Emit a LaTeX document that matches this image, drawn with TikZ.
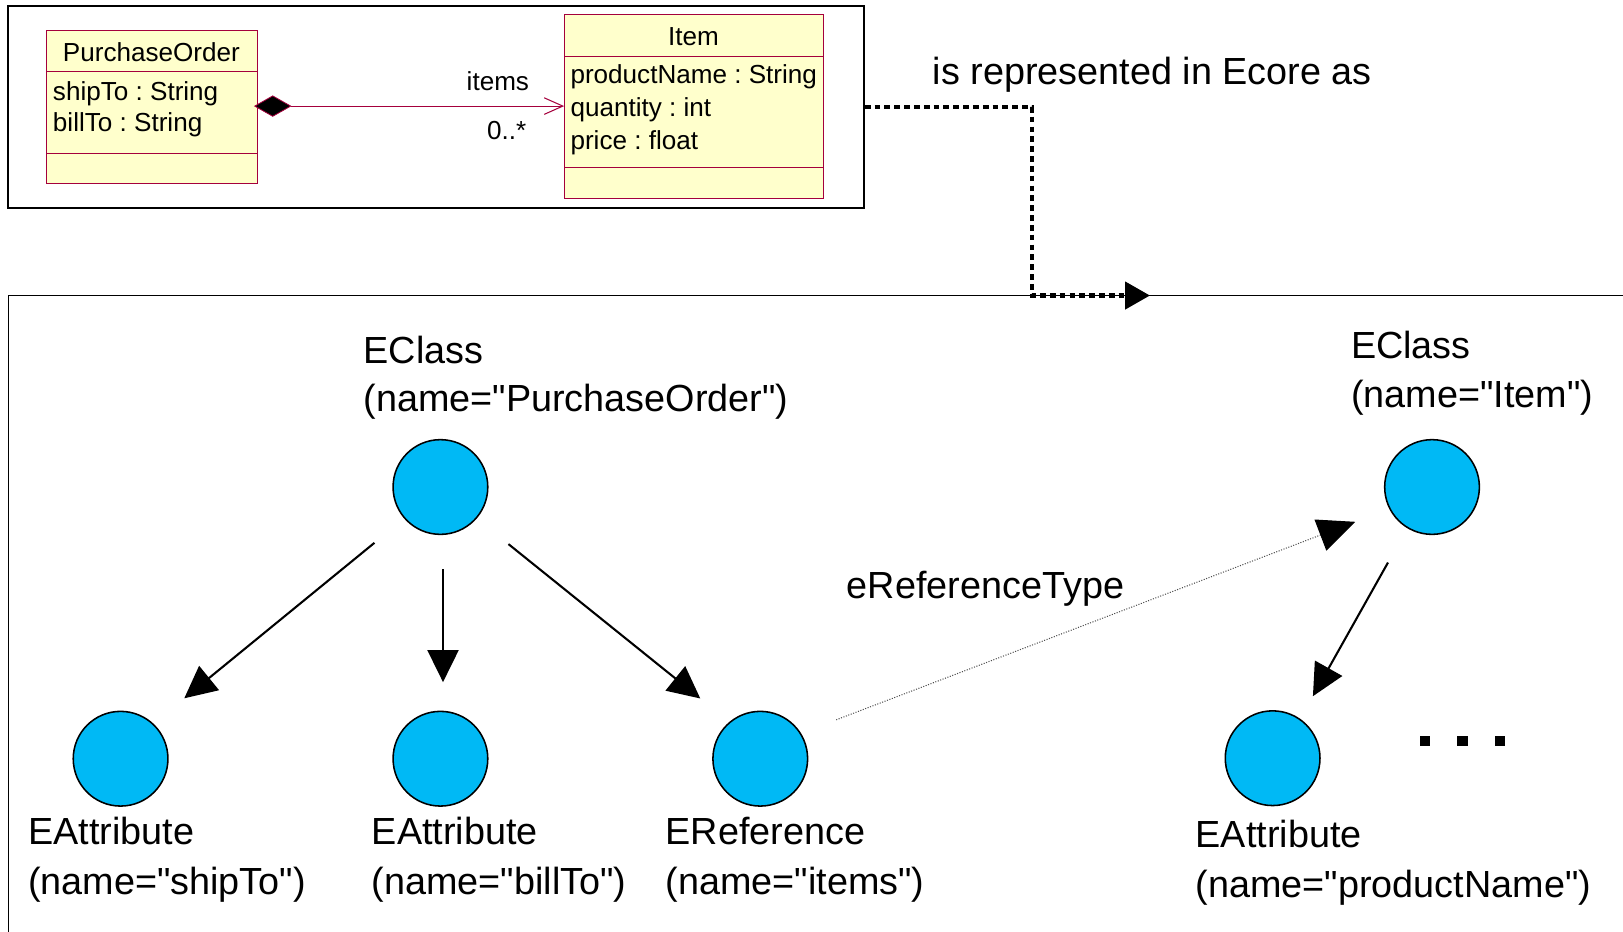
\documentclass[tikz,border=0pt]{standalone}
\usepackage{fontspec}
\setmainfont{Liberation Sans}[Ligatures=TeXOff]
\usetikzlibrary{arrows.meta,shapes.geometric}
\definecolor{umlfill}{RGB}{255,255,204}
\definecolor{umlline}{RGB}{165,0,60}
\definecolor{ecblue}{RGB}{0,185,245}
\frenchspacing
\begin{document}
\begin{tikzpicture}[x=1pt,y=-1pt,
  big/.style={font=\fontsize{36.5}{44}\selectfont, inner sep=0pt, anchor=base west},
  small/.style={font=\fontsize{25.2}{30}\selectfont, inner sep=0pt, anchor=base west},
  umlbox/.style={draw=umlline, fill=umlfill, line width=1pt, rectangle, inner sep=0pt, anchor=north west},
  umlsep/.style={draw=umlline, line width=1pt},
  framebox/.style={draw=black, line width=1.5pt, rectangle, inner sep=0pt, anchor=north west},
  ecirc/.style={circle, draw=black, line width=1.5pt, fill=ecblue, minimum size=91.5pt, inner sep=0pt},
  contain/.style={draw=black, line width=2pt, -{Triangle[length=31pt,width=30pt]}},
  refarrow/.style={draw=black!70, line width=1pt, dash pattern=on 1pt off 1.5pt, -{Triangle[length=36pt,width=32pt,color=black]}},
  repr/.style={draw=black, line width=4.3pt, dash pattern=on 5.5pt off 4pt, -{Triangle[length=24pt,width=26pt]}},
  assoc/.style={draw=umlline, line width=1pt, -{Straight Barb[length=18pt,width=16pt]}}
]
\useasboundingbox (0,0) rectangle (1568,900);

% ---------- UML part ----------
\node[framebox, minimum width=827pt, minimum height=195pt] (top) at (7,5) {};

\node[umlbox, minimum width=203.5pt, minimum height=148pt] (pobox) at (44.5,29) {};
\draw[umlsep] (44.5,69.5) -- (248,69.5);
\draw[umlsep] (44.5,148) -- (248,148);
\node[small, anchor=base] (poname) at (146.25,59) {PurchaseOrder};
\node[small] (poship) at (51,97.5) {shipTo : String};
\node[small] (pobill) at (51,127.5) {billTo : String};

\node[umlbox, minimum width=250pt, minimum height=177.5pt] (itembox) at (545,13.5) {};
\draw[umlsep] (545,55) -- (795,55);
\draw[umlsep] (545,162) -- (795,162);
\node[small, anchor=base] (itemname) at (670,44) {Item};
\node[small] (itemprod) at (551,80.5) {productName : String};
\node[small] (itemqty) at (551,112.5) {quantity : int};
\node[small] (itemprice) at (551,144.5) {price : float};

\node[diamond, draw=umlline, fill=black, line width=0.8pt, minimum width=35pt, minimum height=20pt, inner sep=0pt] (dia) at (263.5,102.5) {};
\draw[assoc] (dia.east) -- (itembox.west |- dia.east);
\node[small, anchor=base] (lblitems) at (481,87) {items};
\node[small, anchor=base] (lblmult) at (489.5,134.5) {0..*};

% ---------- representation connector ----------
\node[big] (reprlbl) at (901,82) {is represented in Ecore as};
\coordinate (bendA) at (997,285.5);
\coordinate (reprend) at (1111,285.5);
\draw[line width=1.5pt] (8,915) -- (8,285.5) -- (1590,285.5);
\draw[repr] (top.east) -| (bendA) -- (reprend);

% ---------- Ecore part ----------
\node[ecirc] (cpo) at (425.5,470.5) {};
\node[ecirc] (citem) at (1383.5,470.5) {};
\node[ecirc] (aship) at (116.5,733) {};
\node[ecirc] (abill) at (425.5,733) {};
\node[ecirc] (ritems) at (734.5,733) {};
\node[ecirc] (aprod) at (1229.5,732.5) {};

\node[big] (lcpo1) at (351,350.7) {EClass};
\node[big] (lcpo2) at (351,398) {(name="PurchaseOrder")};
\node[big] (lcit1) at (1305,346) {EClass};
\node[big] (lcit2) at (1305,394) {(name="Item")};
\node[big] (lash1) at (27,815.5) {EAttribute};
\node[big] (lash2) at (27,864.5) {(name="shipTo")};
\node[big] (labi1) at (359,815.5) {EAttribute};
\node[big] (labi2) at (359,864.5) {(name="billTo")};
\node[big] (lrit1) at (643,815.5) {EReference};
\node[big] (lrit2) at (643,864.5) {(name="items")};
\node[big] (lapr1) at (1155,818.5) {EAttribute};
\node[big] (lapr2) at (1155,867.5) {(name="productName")};
\node[big] (lreft) at (818,578.5) {eReferenceType};

\draw[contain, shorten <=37pt, shorten >=38.5pt] (cpo.221.6) -- (aship.47.9);
\draw[contain, shorten <=33pt, shorten >=27.5pt] ([xshift=2.5pt]cpo.south) -- ([xshift=2.5pt]abill.north);
\draw[contain, shorten <=39.3pt, shorten >=36pt] (cpo.319.7) -- (ritems.130.3);
\draw[contain, shorten <=38pt, shorten >=25pt] (citem.239) -- (aprod.55);
\draw[refarrow, shorten <=36.3pt, shorten >=35.1pt] (ritems.32.9) -- (citem.207.4);

\fill (1372,711) rectangle ++(10,10);
\fill (1408,711) rectangle ++(10,10);
\fill (1444,711) rectangle ++(10,10);
\end{tikzpicture}
\end{document}
